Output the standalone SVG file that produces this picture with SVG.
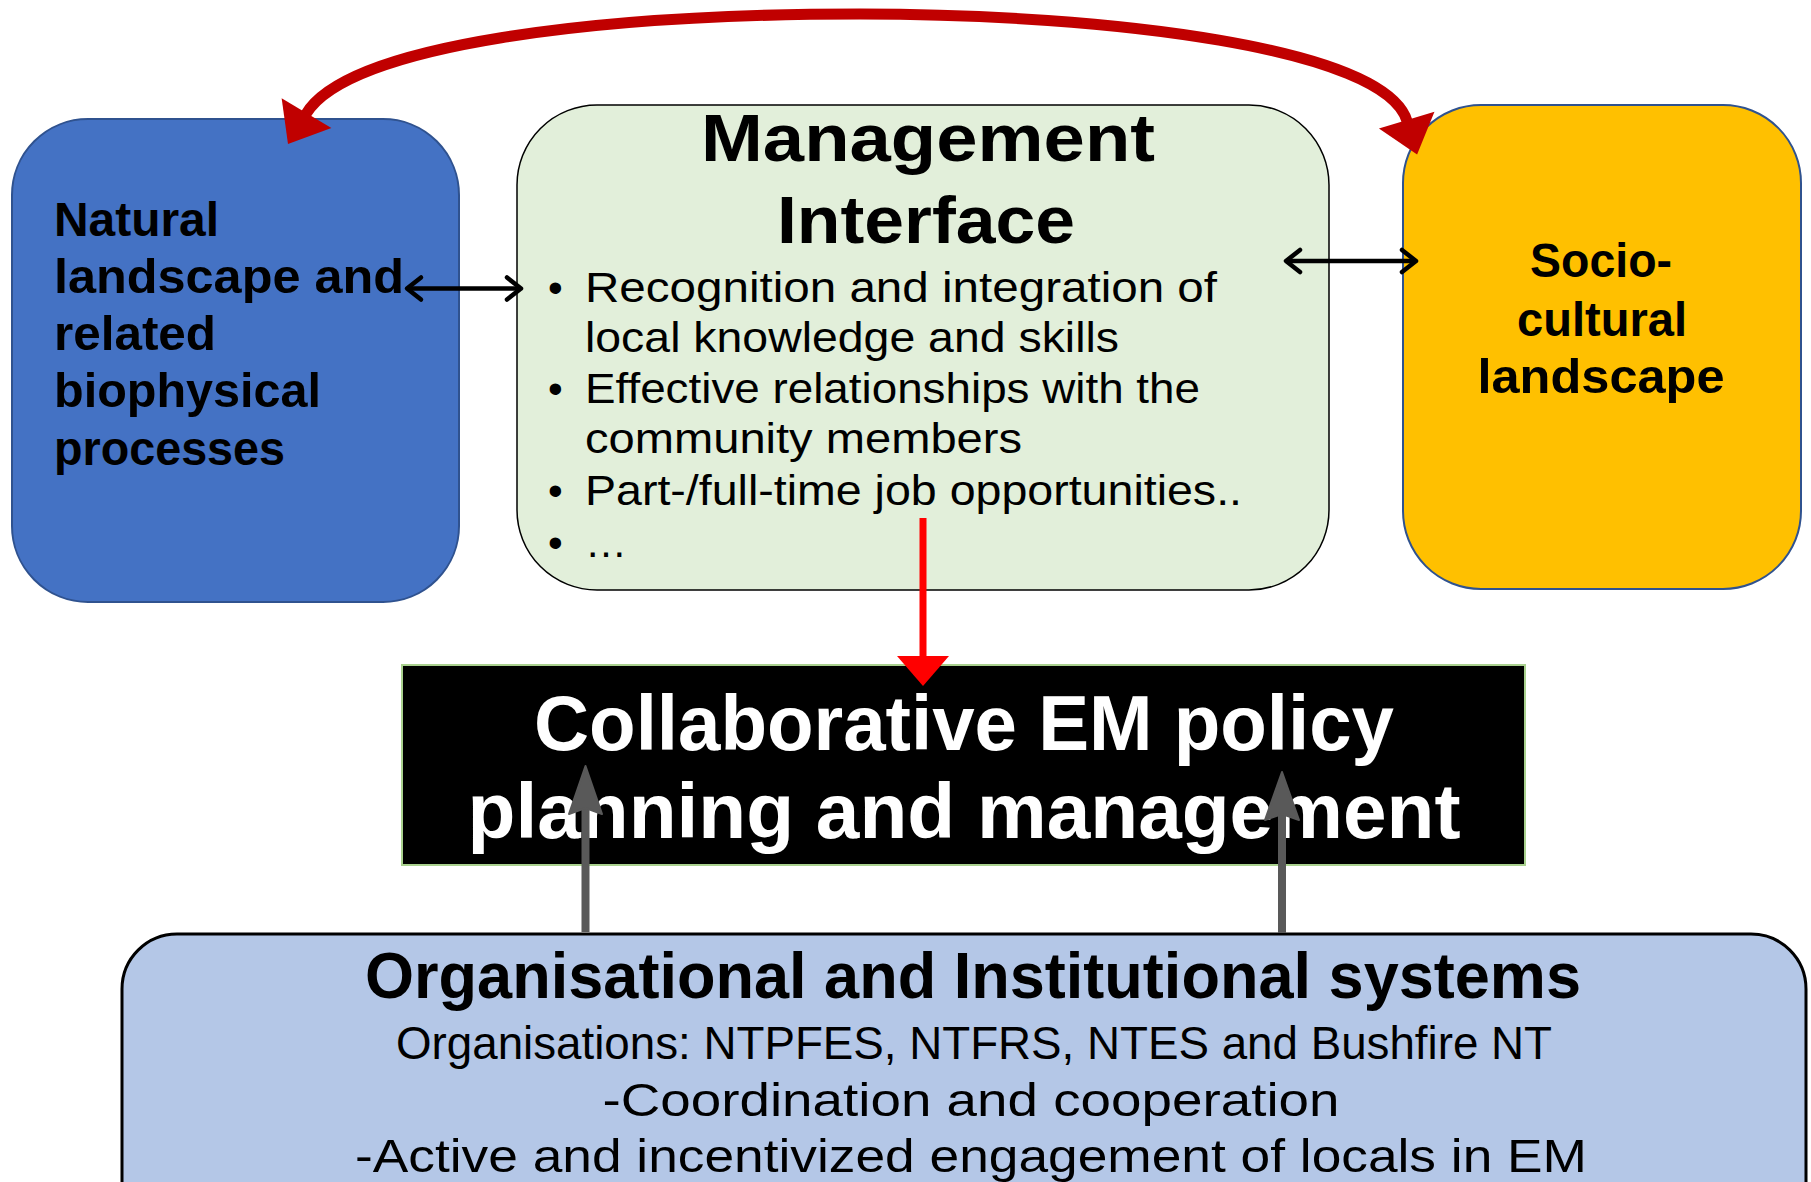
<svg xmlns="http://www.w3.org/2000/svg" width="1811" height="1182" viewBox="0 0 1811 1182">
  <style>
    text { font-family: "Liberation Sans", Arial, sans-serif; }
    .b { font-weight: bold; }
    .nodeLbl { font-size: 48px; font-weight: bold; fill: #000; }
    .bul { font-size: 42px; fill: #000; }
    .sub { font-size: 46px; fill: #000; }
    .dbl { stroke: #000; stroke-width: 4.5; fill: none; }
    .grey { stroke: #595959; stroke-width: 8; fill: none; }
  </style>
  <defs>
    <marker id="chev" markerUnits="userSpaceOnUse" viewBox="-2 -14 20 28" refX="15" refY="0" markerWidth="20" markerHeight="28" orient="auto-start-reverse" overflow="visible">
      <path d="M1,-11 L15,0 L1,11" fill="none" stroke="#000" stroke-width="4.5" stroke-linecap="round" stroke-linejoin="round"/>
    </marker>
    <marker id="redHead" markerUnits="userSpaceOnUse" viewBox="0 -30 38 60" refX="1" refY="0" markerWidth="38" markerHeight="60" orient="auto-start-reverse" overflow="visible">
      <path d="M0,-29 L36,0 L0,29 Z" fill="#C00000"/>
    </marker>
  </defs>

  <rect width="1811" height="1182" fill="#FFFFFF"/>

  <g id="natural-landscape">
    <rect x="12" y="119" width="447" height="483" rx="76" ry="76" fill="#4472C4" stroke="#2F528F" stroke-width="2"/>
    <text class="nodeLbl" x="54" y="236" textLength="165" lengthAdjust="spacingAndGlyphs">Natural</text>
    <text class="nodeLbl" x="54" y="293" textLength="350" lengthAdjust="spacingAndGlyphs">landscape and</text>
    <text class="nodeLbl" x="54" y="350" textLength="162" lengthAdjust="spacingAndGlyphs">related</text>
    <text class="nodeLbl" x="54" y="407" textLength="267" lengthAdjust="spacingAndGlyphs">biophysical</text>
    <text class="nodeLbl" x="54" y="465" textLength="231" lengthAdjust="spacingAndGlyphs">processes</text>
  </g>

  <g id="management-interface">
    <rect x="517" y="105" width="812" height="485" rx="80" ry="80" fill="#E2EFDA" stroke="#000" stroke-width="1.5"/>
    <text class="b" x="928" y="161" font-size="67" text-anchor="middle" textLength="454" lengthAdjust="spacingAndGlyphs">Management</text>
    <text class="b" x="926" y="243" font-size="67" text-anchor="middle" textLength="298" lengthAdjust="spacingAndGlyphs">Interface</text>
    <text class="bul" x="548" y="302">•</text>
    <text class="bul" x="585" y="302" textLength="632" lengthAdjust="spacingAndGlyphs">Recognition and integration of</text>
    <text class="bul" x="585" y="352" textLength="534" lengthAdjust="spacingAndGlyphs">local knowledge and skills</text>
    <text class="bul" x="548" y="403">•</text>
    <text class="bul" x="585" y="403" textLength="615" lengthAdjust="spacingAndGlyphs">Effective relationships with the</text>
    <text class="bul" x="585" y="453" textLength="437" lengthAdjust="spacingAndGlyphs">community members</text>
    <text class="bul" x="548" y="505">•</text>
    <text class="bul" x="585" y="505" textLength="657" lengthAdjust="spacingAndGlyphs">Part-/full-time job opportunities..</text>
    <text class="bul" x="548" y="557">•</text>
    <text class="bul" x="585" y="557">…</text>
  </g>

  <g id="socio-cultural">
    <rect x="1403" y="105" width="398" height="484" rx="78" ry="78" fill="#FFC000" stroke="#2F528F" stroke-width="2"/>
    <text class="nodeLbl" x="1601" y="277" text-anchor="middle" textLength="142" lengthAdjust="spacingAndGlyphs">Socio-</text>
    <text class="nodeLbl" x="1602" y="336" text-anchor="middle" textLength="170" lengthAdjust="spacingAndGlyphs">cultural</text>
    <text class="nodeLbl" x="1601" y="393" text-anchor="middle" textLength="247" lengthAdjust="spacingAndGlyphs">landscape</text>
  </g>

  <g id="collaborative-em">
    <rect x="402" y="665" width="1123" height="200" fill="#000" stroke="#A9D18E" stroke-width="2"/>
    <text class="b" x="964" y="750" font-size="78" fill="#FFF" text-anchor="middle" textLength="860" lengthAdjust="spacingAndGlyphs">Collaborative EM policy</text>
    <text class="b" x="964" y="838" font-size="78" fill="#FFF" text-anchor="middle" textLength="993" lengthAdjust="spacingAndGlyphs">planning and management</text>
  </g>

  <g id="organisational-systems">
    <rect x="122" y="934" width="1684" height="320" rx="55" ry="55" fill="#B4C7E7" stroke="#000" stroke-width="3"/>
    <text class="b" x="973" y="998" font-size="64" text-anchor="middle" textLength="1216" lengthAdjust="spacingAndGlyphs">Organisational and Institutional systems</text>
    <text class="sub" x="974" y="1059" text-anchor="middle" textLength="1156" lengthAdjust="spacingAndGlyphs">Organisations: NTPFES, NTFRS, NTES and Bushfire NT</text>
    <text class="sub" x="971" y="1116" text-anchor="middle" textLength="737" lengthAdjust="spacingAndGlyphs">-Coordination and cooperation</text>
    <text class="sub" x="971" y="1172" text-anchor="middle" textLength="1232" lengthAdjust="spacingAndGlyphs">-Active and incentivized engagement of locals in EM</text>
  </g>

  <g id="connectors">
    <path d="M306,114 C348,44 600,14 860,14 C1110,14 1385,48 1407,121" fill="none" stroke="#C00000" stroke-width="11" marker-start="url(#redHead)" marker-end="url(#redHead)"/>
    <line class="dbl" x1="407" y1="288.5" x2="521" y2="288.5" marker-start="url(#chev)" marker-end="url(#chev)"/>
    <line class="dbl" x1="1286" y1="261" x2="1416" y2="261" marker-start="url(#chev)" marker-end="url(#chev)"/>
    <line x1="923" y1="518" x2="923" y2="658" stroke="#FF0000" stroke-width="7"/>
    <polygon points="897,656 949,656 923,686" fill="#FF0000"/>
    <line class="grey" x1="585.5" y1="932" x2="585.5" y2="805"/>
    <polygon points="585.5,766 602,814 585.5,808 569,814" fill="#595959" stroke="#595959" stroke-width="2" stroke-linejoin="round"/>
    <line class="grey" x1="1282" y1="933" x2="1282" y2="811"/>
    <polygon points="1282,772 1299,820 1282,814 1265,820" fill="#595959" stroke="#595959" stroke-width="2" stroke-linejoin="round"/>
  </g>
</svg>
